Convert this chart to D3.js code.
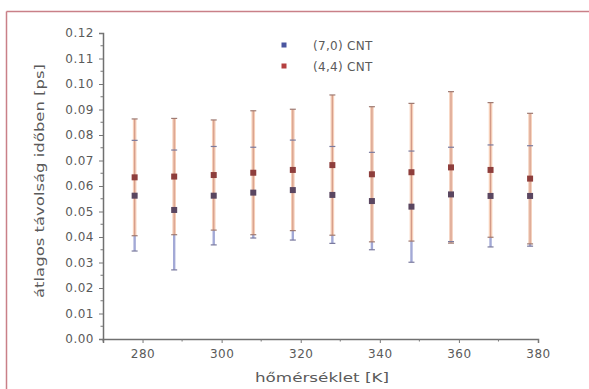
<!DOCTYPE html>
<html>
<head>
<meta charset="utf-8">
<script src="https://cdn.jsdelivr.net/npm/d3@7"></script>
<style>
  body { margin: 0; background: #fff; }
  svg { display: block; }
  .tick text { font-family: "DejaVu Sans", sans-serif; fill: #5a5a5a; }
</style>
</head>
<body>
<div id="chart"></div>
<script>
// hőmérséklet [K]
var temps = [278, 288, 298, 308, 318, 328, 338, 348, 358, 368, 378];
// (7,0) CNT
var blueMean = [0.0562, 0.0506, 0.0562, 0.0574, 0.0584, 0.0565, 0.0541, 0.0519, 0.0567, 0.0561, 0.0561];
var blueErr  = [0.0217, 0.0235, 0.0193, 0.0178, 0.0196, 0.0190, 0.0191, 0.0218, 0.0185, 0.0200, 0.0197];
// (4,4) CNT
var redMean = [0.0634, 0.0637, 0.0643, 0.0652, 0.0663, 0.0682, 0.0646, 0.0654, 0.0673, 0.0663, 0.0629];
var redErr  = [0.0229, 0.0228, 0.0216, 0.0243, 0.0238, 0.0275, 0.0265, 0.0270, 0.0297, 0.0264, 0.0256];

var xTicks = [280, 300, 320, 340, 360, 380];
var yTicks = [0, 0.01, 0.02, 0.03, 0.04, 0.05, 0.06, 0.07, 0.08, 0.09, 0.10, 0.11, 0.12];
var legendNames = ["(7,0) CNT", "(4,4) CNT"];

var W = 589, H = 389;
var svg = d3.select("#chart").append("svg")
    .attr("width", W)
    .attr("height", H);

// frame lines (top + left)
svg.append("line").attr("x1", 6.5).attr("y1", 11.5).attr("x2", W).attr("y2", 11.5)
    .attr("stroke", "#c98088").attr("stroke-width", 1.5);
svg.append("line").attr("x1", 6.5).attr("y1", 11.5).attr("x2", 6.5).attr("y2", H)
    .attr("stroke", "#c98088").attr("stroke-width", 1.5);

var x = d3.scaleLinear().domain([270, 380]).range([103, 538]);
var y = d3.scaleLinear().domain([0, 0.12]).range([339, 33]);

// minor ticks
var xMinor = d3.range(270, 381, 10).filter(function (v) { return xTicks.indexOf(v) < 0; });
var yMinor = d3.range(0.005, 0.12, 0.01);

var xAxis = svg.append("g")
    .attr("transform", "translate(0," + y(0) + ")")
    .call(d3.axisBottom(x).tickValues(xTicks).tickSize(4).tickPadding(6).tickFormat(d3.format("d")));
xAxis.append("g").selectAll("line").data(xMinor).enter().append("line")
    .attr("x1", function (d) { return x(d); }).attr("x2", function (d) { return x(d); })
    .attr("y1", 0).attr("y2", 2.5).attr("stroke", "#777");

var yAxis = svg.append("g")
    .attr("transform", "translate(" + x(270) + ",0)")
    .call(d3.axisLeft(y).tickValues(yTicks).tickSize(4).tickPadding(5).tickFormat(d3.format(".2f")));
yAxis.append("g").selectAll("line").data(yMinor).enter().append("line")
    .attr("y1", function (d) { return y(d); }).attr("y2", function (d) { return y(d); })
    .attr("x1", 0).attr("x2", -2.5).attr("stroke", "#777");

svg.selectAll(".domain").attr("stroke", "#707070").attr("stroke-width", 1.5);
svg.selectAll(".tick line").attr("stroke", "#777");
svg.selectAll(".tick text").attr("font-size", 12).attr("letter-spacing", 0.5);

// axis titles
svg.append("text")
    .attr("x", 322).attr("y", 382)
    .attr("text-anchor", "middle")
    .attr("font-family", "DejaVu Sans, sans-serif")
    .attr("font-size", 13).attr("fill", "#5a5a5a")
    .attr("textLength", 134).attr("lengthAdjust", "spacingAndGlyphs")
    .text("hőmérséklet [K]");

svg.append("text")
    .attr("transform", "translate(44,181) rotate(-90)")
    .attr("text-anchor", "middle")
    .attr("font-family", "DejaVu Sans, sans-serif")
    .attr("font-size", 13).attr("fill", "#5a5a5a")
    .attr("textLength", 234).attr("lengthAdjust", "spacingAndGlyphs")
    .text("átlagos távolság időben [ps]");

// data rows
var rows = temps.map(function (t, i) {
    return { t: t, bm: blueMean[i], be: blueErr[i], rm: redMean[i], re: redErr[i] };
});

var g = svg.append("g");

// blue error bars
g.selectAll(".bbar").data(rows).enter().append("line")
    .attr("x1", function (d) { return x(d.t); }).attr("x2", function (d) { return x(d.t); })
    .attr("y1", function (d) { return y(d.bm - d.be); }).attr("y2", function (d) { return y(d.bm + d.be); })
    .attr("stroke", "#a3a9d6").attr("stroke-width", 2.4);

// red error bars: light halo + darker core
g.selectAll(".rhalo").data(rows).enter().append("line")
    .attr("x1", function (d) { return x(d.t); }).attr("x2", function (d) { return x(d.t); })
    .attr("y1", function (d) { return y(d.rm - d.re); }).attr("y2", function (d) { return y(d.rm + d.re); })
    .attr("stroke", "#f6cfb8").attr("stroke-width", 3.6);
g.selectAll(".rbar").data(rows).enter().append("line")
    .attr("x1", function (d) { return x(d.t); }).attr("x2", function (d) { return x(d.t); })
    .attr("y1", function (d) { return y(d.rm - d.re); }).attr("y2", function (d) { return y(d.rm + d.re); })
    .attr("stroke", "#d39a88").attr("stroke-width", 1.1);

// caps
function caps(cls, mean, err, col) {
    [-1, 1].forEach(function (s) {
        g.selectAll("." + cls + s).data(rows).enter().append("line")
            .attr("x1", function (d) { return x(d.t) - 3; }).attr("x2", function (d) { return x(d.t) + 3; })
            .attr("y1", function (d) { return y(d[mean] + s * d[err]); })
            .attr("y2", function (d) { return y(d[mean] + s * d[err]); })
            .attr("stroke", col).attr("stroke-width", 1.2);
    });
}
caps("bcap", "bm", "be", "#7a7a9e");
caps("rcap", "rm", "re", "#9e7a72");

// markers
g.selectAll(".bpt").data(rows).enter().append("rect")
    .attr("x", function (d) { return x(d.t) - 3; })
    .attr("y", function (d) { return y(d.bm) - 3; })
    .attr("width", 6).attr("height", 6)
    .attr("fill", "#5a4660");
g.selectAll(".rpt").data(rows).enter().append("rect")
    .attr("x", function (d) { return x(d.t) - 3; })
    .attr("y", function (d) { return y(d.rm) - 3; })
    .attr("width", 6).attr("height", 6)
    .attr("fill", "#8e3e3c");

// legend
var legCols = ["#4a56a0", "#b54040"];
var leg = svg.append("g").selectAll("g").data(legendNames).enter().append("g")
    .attr("transform", function (d, i) { return "translate(284," + (45 + i * 21) + ")"; });
leg.append("rect").attr("x", -2.5).attr("y", -2.5).attr("width", 5).attr("height", 5)
    .attr("fill", function (d, i) { return legCols[i]; });
leg.append("text").attr("x", 29).attr("y", 4.5)
    .attr("font-family", "DejaVu Sans, sans-serif").attr("font-size", 12)
    .attr("fill", "#5a5a5a").attr("letter-spacing", 0.3)
    .text(function (d) { return d; });
</script>
</body>
</html>
